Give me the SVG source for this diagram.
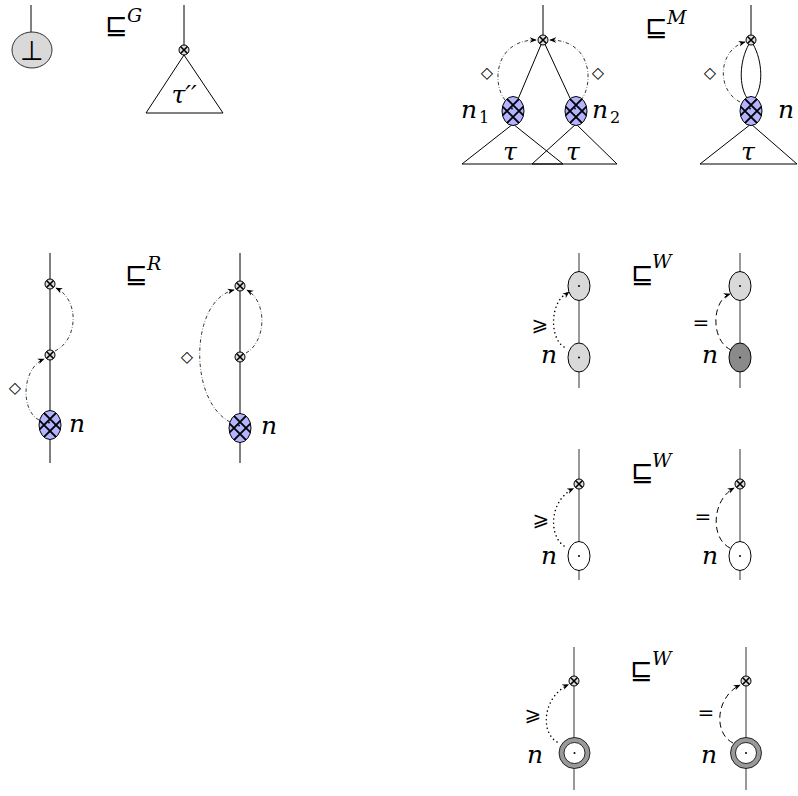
<svg xmlns="http://www.w3.org/2000/svg" xmlns:xlink="http://www.w3.org/1999/xlink" width="798" height="796" viewBox="0 0 798 796">
<style>
.edge{fill:none;stroke:#000;stroke-width:1}
.gedge{fill:none;stroke:#444;stroke-width:1.1}
.dd{fill:none;stroke:#222;stroke-width:0.9;stroke-dasharray:3.5 2 0.6 2}
.dot{fill:none;stroke:#000;stroke-width:1.5;stroke-dasharray:0.1 4.2;stroke-linecap:round}
.dash{fill:none;stroke:#000;stroke-width:1;stroke-dasharray:6 4}
.lbl{font-family:"DejaVu Serif","Liberation Serif",serif;font-style:italic;font-size:25px;fill:#000}
.sub{font-family:"DejaVu Serif","Liberation Serif",serif;font-size:16px;fill:#000}
.sup{font-family:"DejaVu Serif","Liberation Serif",serif;font-style:italic;font-size:19px;fill:#000}
.sym{font-family:"DejaVu Sans","Noto Sans",sans-serif;font-weight:200;font-size:27px;fill:#000}
.dia{font-family:"DejaVu Sans","Noto Sans",sans-serif;font-size:16px;fill:#000}
.rel{font-family:"DejaVu Sans","Noto Sans",sans-serif;font-size:20px;fill:#000}
.tri{fill:none;stroke:#000;stroke-width:1}
</style>
<defs>
<marker id="arr" viewBox="0 0 10 10" refX="9" refY="5" markerWidth="7" markerHeight="7" markerUnits="userSpaceOnUse" orient="auto">
<path d="M0,1 L10,5 L0,9 L3,5 z" fill="#000"/>
</marker>
<clipPath id="hclip"><ellipse cx="0" cy="0" rx="11" ry="14.5"/></clipPath>
<g id="hn">
<ellipse cx="0" cy="0" rx="11" ry="14.5" fill="#b3b3ff"/>
<g clip-path="url(#hclip)" stroke="#000" stroke-width="1.9">
<path d="M-17,-23 L23,17 M-23,-17 L17,23 M-23,17 L17,-23 M-17,23 L23,-17"/>
</g>
<ellipse cx="0" cy="0" rx="11" ry="14.5" fill="none" stroke="#000" stroke-width="1"/>
<circle cx="-1" cy="-2.5" r="0.9" fill="#000"/>
</g>
<g id="ox">
<circle cx="0" cy="0" r="5" fill="#ddd" stroke="#000" stroke-width="1"/>
<path d="M-3.5,-3.5 L3.5,3.5 M-3.5,3.5 L3.5,-3.5" stroke="#000" stroke-width="1.6"/>
</g>
<g id="lg">
<ellipse cx="0" cy="0" rx="11" ry="14.5" fill="#d9d9d9" stroke="#000" stroke-width="1"/>
<circle cx="0" cy="0" r="1" fill="#000"/>
</g>
<g id="dg">
<ellipse cx="0" cy="0" rx="11" ry="14.5" fill="#8a8a8a" stroke="#000" stroke-width="1"/>
<circle cx="0" cy="0" r="1" fill="#000"/>
</g>
<g id="wh">
<ellipse cx="0" cy="0" rx="11" ry="14.5" fill="#fff" stroke="#000" stroke-width="1"/>
<circle cx="0" cy="0" r="1" fill="#000"/>
</g>
<g id="ring">
<circle cx="0" cy="0" r="15.5" fill="#999" stroke="#000" stroke-width="0.8"/>
<circle cx="0" cy="0" r="10.5" fill="#fff" stroke="#000" stroke-width="0.8"/>
<circle cx="0" cy="0" r="1" fill="#000"/>
</g>
</defs>
<rect width="798" height="796" fill="#fff"/>

<g id="connectors">
<line class="edge" x1="31" y1="5" x2="31" y2="33"/>
<line class="edge" x1="184" y1="5" x2="184" y2="50"/>
<path class="tri" d="M184,55 L146,113 L223,113 Z"/>
<line class="edge" x1="543" y1="5" x2="543" y2="40"/>
<line class="edge" x1="543" y1="40" x2="513" y2="111"/>
<line class="edge" x1="543" y1="40" x2="576" y2="111"/>
<path class="tri" d="M513,124 L462,164 L563,164 Z"/>
<path class="tri" d="M576,124 L532,164 L617,164 Z"/>
<path class="dd" d="M505,100 C492,84 494,40 536,40" marker-end="url(#arr)"/>
<path class="dd" d="M581,100 C594,84 592,40 550,40" marker-end="url(#arr)"/>
<line class="edge" x1="751" y1="5" x2="751" y2="40"/>
<path class="edge" d="M749,44 C739,62 739,86 747,98"/>
<path class="edge" d="M753,44 C763,62 763,86 755,98"/>
<path class="tri" d="M751,124 L700,164 L797,164 Z"/>
<path class="dd" d="M740,102 C716,90 718,50 745,42" marker-end="url(#arr)"/>
<line class="edge" x1="50" y1="253" x2="50" y2="463"/>
<path class="dd" d="M55,351 C78,340 80,300 56,288" marker-end="url(#arr)"/>
<path class="dd" d="M39,420 C20,410 22,368 44,359" marker-end="url(#arr)"/>
<line class="edge" x1="240" y1="253" x2="240" y2="463"/>
<path class="dd" d="M246,353 C266,342 268,302 247,290" marker-end="url(#arr)"/>
<path class="dd" d="M230,422 C188,400 190,300 234,290" marker-end="url(#arr)"/>
<line class="gedge" x1="579" y1="253" x2="579" y2="388"/>
<line class="gedge" x1="740" y1="253" x2="740" y2="388"/>
<path class="dot" d="M564,347 C549,338 550,300 568,293"/>
<path d="M562,297.5 L569,292" fill="none" marker-end="url(#arr)" stroke="none"/>
<path class="dash" d="M731,350 C710,340 712,300 730,294" marker-end="url(#arr)"/>
<line class="gedge" x1="579" y1="449" x2="579" y2="580"/>
<line class="gedge" x1="740" y1="449" x2="740" y2="580"/>
<path class="dot" d="M564,546 C548,535 550,500 573,489"/>
<path d="M566,492 L573.5,488.5" fill="none" marker-end="url(#arr)" stroke="none"/>
<path class="dash" d="M730,548 C710,538 712,500 734,488" marker-end="url(#arr)"/>
<line class="gedge" x1="574" y1="647" x2="574" y2="790"/>
<line class="gedge" x1="746" y1="647" x2="746" y2="790"/>
<path class="dot" d="M557,742 C540,732 543,697 568,685"/>
<path d="M561,688 L568.5,684.5" fill="none" marker-end="url(#arr)" stroke="none"/>
<path class="dash" d="M733,743 C713,733 716,697 740,685" marker-end="url(#arr)"/>
</g>

<g id="node-bot">
<ellipse cx="32" cy="50" rx="20" ry="18" fill="#d9d9d9" stroke="#333" stroke-width="1"/>
<text class="sym" x="32" y="60" text-anchor="middle">⊥</text>
</g>
<g id="rel-G">
<text class="sym" x="105" y="34">⊑</text>
<text class="sup" x="127" y="22">G</text>
</g>
<g id="node-G-ox"><use xlink:href="#ox" x="184" y="50"/></g>
<g id="node-tau2"><text class="lbl" x="184" y="103" text-anchor="middle">τ′′</text></g>

<g id="node-M-ox"><use xlink:href="#ox" x="543" y="40"/></g>
<g id="node-n1">
<use xlink:href="#hn" x="513" y="111"/>
<text class="lbl" x="461" y="118">n</text><text class="sub" x="479" y="123">1</text>
</g>
<g id="node-n2">
<use xlink:href="#hn" x="576" y="111"/>
<text class="lbl" x="592" y="118">n</text><text class="sub" x="610" y="123">2</text>
</g>
<g id="labels-M">
<text class="lbl" x="510" y="160" text-anchor="middle">τ</text>
<text class="lbl" x="573" y="160" text-anchor="middle">τ</text>
<text class="dia" x="487" y="78" text-anchor="middle">◇</text>
<text class="dia" x="598" y="78" text-anchor="middle">◇</text>
</g>
<g id="rel-M">
<text class="sym" x="645" y="36">⊑</text>
<text class="sup" x="667" y="24">M</text>
</g>
<g id="node-M2-ox"><use xlink:href="#ox" x="751" y="40"/></g>
<g id="node-M2-n">
<use xlink:href="#hn" x="751" y="111"/>
<text class="lbl" x="778" y="118">n</text>
<text class="lbl" x="748" y="160" text-anchor="middle">τ</text>
<text class="dia" x="710" y="78" text-anchor="middle">◇</text>
</g>

<g id="node-R1-ox1"><use xlink:href="#ox" x="50" y="284"/></g>
<g id="node-R1-ox2"><use xlink:href="#ox" x="50" y="355"/></g>
<g id="node-R1-n">
<use xlink:href="#hn" x="50" y="425"/>
<text class="lbl" x="69" y="432">n</text>
<text class="dia" x="15" y="393" text-anchor="middle">◇</text>
</g>
<g id="rel-R">
<text class="sym" x="125" y="283">⊑</text>
<text class="sup" x="147" y="270">R</text>
</g>
<g id="node-R2-ox1"><use xlink:href="#ox" x="240" y="286"/></g>
<g id="node-R2-ox2"><use xlink:href="#ox" x="240" y="357"/></g>
<g id="node-R2-n">
<use xlink:href="#hn" x="240" y="428"/>
<text class="lbl" x="261" y="434">n</text>
<text class="dia" x="187" y="362" text-anchor="middle">◇</text>
</g>

<g id="node-W1a-top"><use xlink:href="#lg" x="579" y="286"/></g>
<g id="node-W1a-n">
<use xlink:href="#lg" x="579" y="357.5"/>
<text class="lbl" x="541" y="363">n</text>
<text class="rel" x="540" y="331" text-anchor="middle">⩾</text>
</g>
<g id="rel-W1">
<text class="sym" x="631" y="283">⊑</text>
<text class="sup" x="652" y="268">W</text>
</g>
<g id="node-W1b-top"><use xlink:href="#lg" x="740" y="286"/></g>
<g id="node-W1b-n">
<use xlink:href="#dg" x="740" y="357.5"/>
<text class="lbl" x="702" y="363">n</text>
<text class="rel" x="701" y="329" text-anchor="middle">=</text>
</g>

<g id="node-W2a-ox"><use xlink:href="#ox" x="579" y="484"/></g>
<g id="node-W2a-n">
<use xlink:href="#wh" x="579" y="556"/>
<text class="lbl" x="541" y="564">n</text>
<text class="rel" x="541" y="526" text-anchor="middle">⩾</text>
</g>
<g id="rel-W2">
<text class="sym" x="631" y="481">⊑</text>
<text class="sup" x="652" y="467">W</text>
</g>
<g id="node-W2b-ox"><use xlink:href="#ox" x="740" y="484"/></g>
<g id="node-W2b-n">
<use xlink:href="#wh" x="740" y="556"/>
<text class="lbl" x="702" y="564">n</text>
<text class="rel" x="703" y="523" text-anchor="middle">=</text>
</g>

<g id="node-W3a-ox"><use xlink:href="#ox" x="574" y="681"/></g>
<g id="node-W3a-n">
<use xlink:href="#ring" x="574.5" y="753"/>
<text class="lbl" x="527" y="763">n</text>
<text class="rel" x="533" y="721" text-anchor="middle">⩾</text>
</g>
<g id="rel-W3">
<text class="sym" x="630" y="679">⊑</text>
<text class="sup" x="652" y="665">W</text>
</g>
<g id="node-W3b-ox"><use xlink:href="#ox" x="746" y="681"/></g>
<g id="node-W3b-n">
<use xlink:href="#ring" x="746" y="753"/>
<text class="lbl" x="701" y="763">n</text>
<text class="rel" x="706" y="719" text-anchor="middle">=</text>
</g>
</svg>
